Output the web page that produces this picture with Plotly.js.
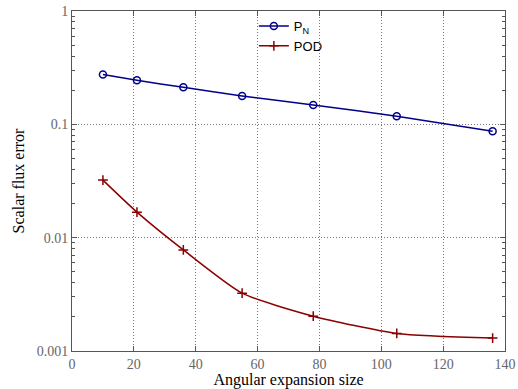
<!DOCTYPE html>
<html>
<head>
<meta charset="utf-8">
<script src="https://cdn.plot.ly/plotly-3.0.1.min.js"></script>
<style>html,body{margin:0;padding:0;background:#fff;}</style>
</head>
<body>
<div id="chart" style="width:518px;height:389px;"></div>
<script>
const expansionSize = [10, 21, 36, 55, 78, 105, 136];
const pnError = [0.275, 0.245, 0.212, 0.178, 0.148, 0.118, 0.087];
const podError = [0.0322, 0.0168, 0.0078, 0.00324, 0.00203, 0.00143, 0.0013];
const yTickVals = [0.001, 0.01, 0.1, 1];
const yTickText = ['0.001', '0.01', '0.1', '1'];
const yMinorVals = [0.002, 0.003, 0.004, 0.005, 0.006, 0.007, 0.008, 0.009,
                    0.02, 0.03, 0.04, 0.05, 0.06, 0.07, 0.08, 0.09,
                    0.2, 0.3, 0.4, 0.5, 0.6, 0.7, 0.8, 0.9];
const xTickVals = [0, 20, 40, 60, 80, 100, 120, 140];

const traces = [
  {x: expansionSize, y: pnError, name: 'P<sub>N</sub>', type: 'scatter', mode: 'lines+markers',
   line: {color: '#00008b', width: 1.5, shape: 'spline', smoothing: 0.6},
   marker: {symbol: 'circle-open', size: 7, color: '#00008b', line: {width: 1.5}}},
  {x: expansionSize, y: podError, name: 'POD', type: 'scatter', mode: 'lines+markers',
   line: {color: '#8b0000', width: 1.5, shape: 'spline', smoothing: 0.6},
   marker: {symbol: 'cross-thin-open', size: 7, color: '#8b0000', line: {width: 1.5, color: '#8b0000'}}}
];

const axisCommon = {
  showline: true, linecolor: '#555', linewidth: 1, mirror: 'allticks',
  ticks: 'inside', ticklen: 5, tickcolor: '#555',
  showgrid: true, gridcolor: '#777', griddash: '1px,2px', gridwidth: 1,
  zeroline: false,
  tickfont: {family: 'Liberation Serif, serif', size: 14, color: '#666'}
};

const layout = {
  width: 518, height: 389,
  margin: {l: 72, r: 13, t: 11, b: 38},
  paper_bgcolor: '#fff', plot_bgcolor: '#fff',
  showlegend: true,
  legend: {x: 0.42, y: 1, xanchor: 'left', yanchor: 'top', bgcolor: 'rgba(0,0,0,0)',
           font: {family: 'Liberation Sans, sans-serif', size: 13, color: '#000'},
           tracegroupgap: 0, itemwidth: 30},
  xaxis: Object.assign({}, axisCommon, {
    range: [0, 140], tickmode: 'array', tickvals: xTickVals,
    title: {text: 'Angular expansion size', standoff: 4,
            font: {family: 'Liberation Serif, serif', size: 16, color: '#000'}}
  }),
  yaxis: Object.assign({}, axisCommon, {
    type: 'log', range: [-3, 0], tickmode: 'array', tickvals: yTickVals, ticktext: yTickText,
    minor: {tickmode: 'array', tickvals: yMinorVals, ticks: 'inside', ticklen: 3,
            tickcolor: '#555', showgrid: false},
    title: {text: 'Scalar flux error', standoff: 8,
            font: {family: 'Liberation Serif, serif', size: 16, color: '#000'}}
  })
};

Plotly.newPlot('chart', traces, layout, {displayModeBar: false, staticPlot: true});
</script>
</body>
</html>
